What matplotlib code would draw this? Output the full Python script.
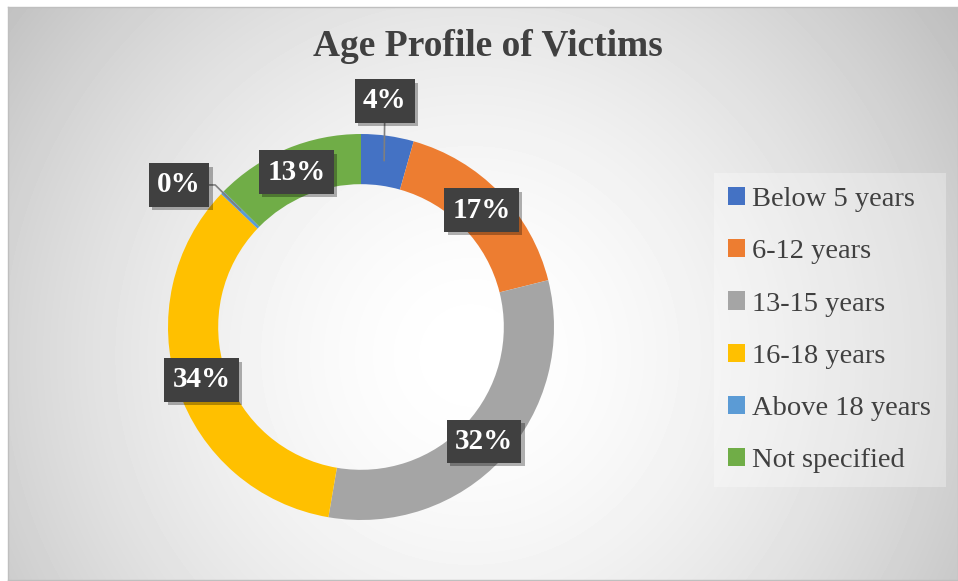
import numpy as np
import matplotlib
matplotlib.use("Agg")
import matplotlib.pyplot as plt
import matplotlib.patheffects as pe

plt.rcParams['font.family'] = ['Liberation Serif', 'DejaVu Serif']

# data (share of victims, %)
categories = ['Below 5 years', '6-12 years', '13-15 years', '16-18 years',
              'Above 18 years', 'Not specified']
shares = [4.4, 16.7, 31.6, 34.4, 0.3, 12.6]
colors = ['#4472C4', '#ED7D31', '#A5A5A5', '#FFC000', '#5B9BD5', '#70AD47']

W, H = 958, 581
fig = plt.figure(figsize=(W / 100, H / 100), dpi=100)
fig.patch.set_facecolor('white')

# chart area with radial grey gradient
x0, y0, x1, y1 = 8, 7, 958, 580
bg = fig.add_axes([x0 / W, 1 - y1 / H, (x1 - x0) / W, (y1 - y0) / H], zorder=0)
yy, xx = np.mgrid[0:y1 - y0, 0:x1 - x0]
d = np.hypot(xx - (470 - x0), yy - (355 - y0)) / 590.0
val = 1 - 0.25 * np.clip(d, 0, 1.1) ** 1.7
bg.imshow(val, cmap='gray', vmin=0, vmax=1, aspect='auto', interpolation='bilinear')
bg.set_xticks([])
bg.set_yticks([])
for s in bg.spines.values():
    s.set_color('#bfbfbf')
    s.set_linewidth(1)

# donut
cx, cy, r = 361, 327, 193
ax = fig.add_axes([(cx - r) / W, 1 - (cy + r) / H, 2 * r / W, 2 * r / H], zorder=1)
wedges, _ = ax.pie(shares, colors=colors, startangle=90, counterclock=False,
                   radius=1, wedgeprops=dict(width=0.26, linewidth=0))
ax.set_xlim(-1, 1)
ax.set_ylim(-1, 1)

# labels moved out of the ring (text box position in axes data units)
moved = {0: (0.124, 1.171), 4: (-0.943, 0.736)}
box = dict(boxstyle='square,pad=0.28', fc='#404040', ec='none')
for i, (w, v) in enumerate(zip(wedges, shares)):
    mid = np.deg2rad((w.theta1 + w.theta2) / 2)
    ax_x, ax_y = 0.87 * np.cos(mid), 0.87 * np.sin(mid)
    txt = f"{round(v)}%"
    if i in moved:
        conn = 'angle,angleA=0,angleB=135,rad=0' if i == 4 else 'arc3'
        t = ax.annotate(txt, xy=(ax_x, ax_y), xytext=moved[i],
                        ha='center', va='center', color='white',
                        fontsize=21, fontweight='bold', bbox=box,
                        arrowprops=dict(arrowstyle='-', color='#7f7f7f', lw=1.2,
                                        connectionstyle=conn, shrinkA=0, shrinkB=0))
    else:
        t = ax.text(ax_x, ax_y, txt, ha='center', va='center', color='white',
                    fontsize=21, fontweight='bold', bbox=box)
    t.get_bbox_patch().set_path_effects(
        [pe.withSimplePatchShadow(offset=(2.5, -2.5), shadow_rgbFace='black', alpha=0.3),
         pe.Normal()])

fig.text(488 / W, 1 - 47 / H, 'Age Profile of Victims', ha='center', va='center',
         fontsize=27, fontweight='bold', color='#404040')

leg = fig.legend(wedges, categories, loc='upper left',
                 bbox_to_anchor=(714 / W, 1 - 173 / H), borderaxespad=0,
                 fontsize=20.5, frameon=True, fancybox=False,
                 handlelength=0.6, handleheight=0.6, handletextpad=0.25,
                 labelspacing=0.95, borderpad=0.5)
leg.get_frame().set_facecolor('white')
leg.get_frame().set_alpha(0.3)
leg.get_frame().set_edgecolor('none')
for t in leg.get_texts():
    t.set_color('#404040')

fig.savefig('out.png', dpi=100)
